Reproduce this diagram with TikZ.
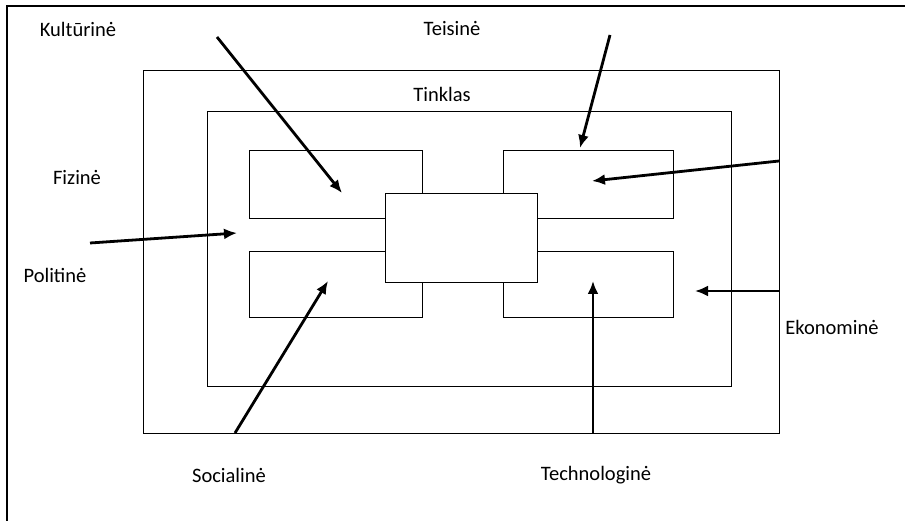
\documentclass[tikz,border=0pt]{standalone}
\usepackage{fontspec}
\setmainfont{Carlito}
\usetikzlibrary{arrows.meta}

\begin{document}
\begin{tikzpicture}[x=1pt,y=-1pt,>={Latex[length=13pt,width=11pt]},
    zone/.style={draw,line width=1.4pt,inner sep=0pt,anchor=north west},
    factor/.style={->,line width=2.8pt},
    lbl/.style={font=\fontsize{20.5}{24}\selectfont}]
    \useasboundingbox (0,0) rectangle (905,521);
    % frame
    \coordinate (f0) at (7,521);
    \coordinate (f1) at (7,6);
    \coordinate (f2) at (905,6);
    \draw[line width=1.4pt] (f0) -- (f1) -- (f2);
    % environment and network
    \node[zone,minimum width=636pt,minimum height=363pt] (aplinka) at (143,70) {};
    \node[zone,minimum width=524pt,minimum height=275pt] (tinklas) at (207,111) {};
    \node[lbl] (tinklasL) at (442,94) {Tinklas};
    \node[zone,minimum width=173pt,minimum height=68pt] (b1) at (249,150) {};
    \node[zone,minimum width=173pt,minimum height=66pt] (b2) at (249,251) {};
    \node[zone,minimum width=170pt,minimum height=68pt] (b3) at (503,150) {};
    \node[zone,minimum width=170pt,minimum height=66pt] (b4) at (503,251) {};
    \node[zone,fill=white,minimum width=152pt,minimum height=89pt] (centras) at (385,193) {};
    % factors
    \node[lbl] (kult) at (78,29) {Kultūrinė};
    \node[lbl] (teis) at (452,28) {Teisinė};
    \node[lbl] (fiz) at (77,177) {Fizinė};
    \node[lbl] (pol) at (55,275) {Politinė};
    \node[lbl] (ekon) at (832,327) {Ekonominė};
    \node[lbl] (soc) at (229,475) {Socialinė};
    \node[lbl] (tech) at (596,475) {Technologinė};
    % arrows
    \coordinate (k0) at (217,37);  \coordinate (k1) at (342,193);
    \coordinate (t0) at (610,35);  \coordinate (t1) at (580,148);
    \coordinate (e0) at (779,161); \coordinate (e1) at (592,181);
    \coordinate (e2) at (779,291); \coordinate (e3) at (695,291);
    \coordinate (g0) at (593,433); \coordinate (g1) at (593,281);
    \coordinate (s0) at (235,433); \coordinate (s1) at (328,281);
    \coordinate (p0) at (90,243);  \coordinate (p1) at (237,233);
    \draw[factor] (k0) -- (k1);
    \draw[factor] (t0) -- (t1);
    \draw[factor] (e0) -- (e1);
    \draw[factor] (e2) -- (e3);
    \draw[factor] (g0) -- (g1);
    \draw[factor] (s0) -- (s1);
    \draw[factor] (p0) -- (p1);
\end{tikzpicture}
\end{document}
